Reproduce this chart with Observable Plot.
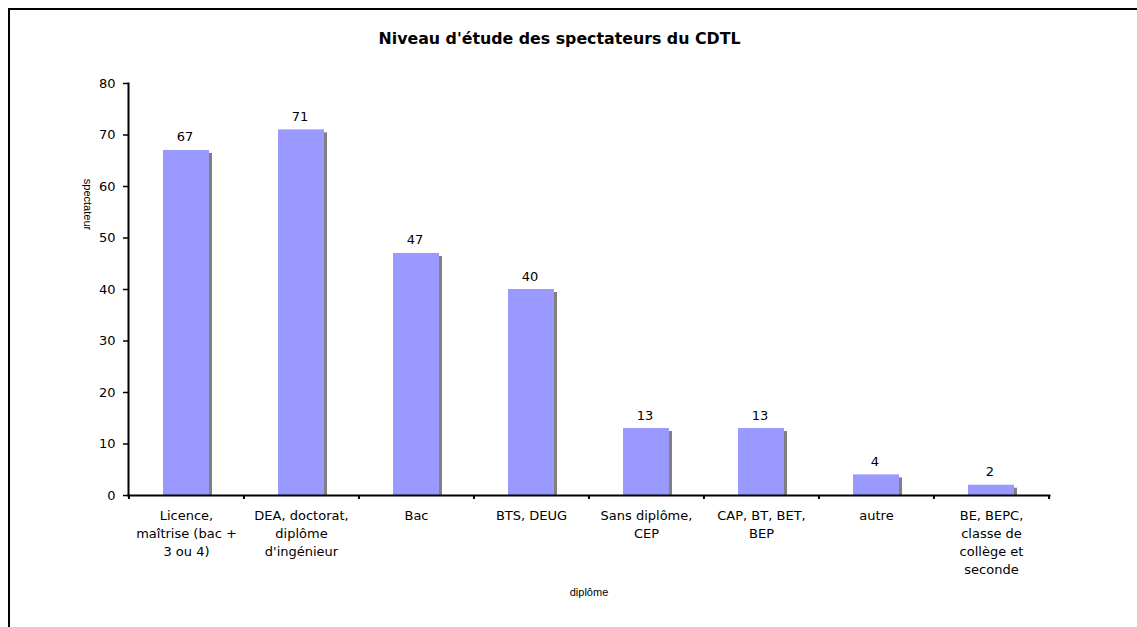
<!DOCTYPE html>
<html>
<head>
<meta charset="utf-8">
<script src="https://cdn.jsdelivr.net/npm/d3@7"></script>
<script src="https://cdn.jsdelivr.net/npm/@observablehq/plot@0.6"></script>
<style>
html, body { margin: 0; padding: 0; background: #fff; overflow: hidden; }
#border { position: absolute; left: 8px; top: 8px; width: 1200px; height: 700px; border-top: 2px solid #000; border-left: 2px solid #000; }
#chart { position: absolute; left: 0; top: 0; }
</style>
</head>
<body>
<div id="border"></div>
<div id="chart"></div>
<script>
const categories = [
  "Licence, maîtrise (bac + 3 ou 4)",
  "DEA, doctorat, diplôme d'ingénieur",
  "Bac",
  "BTS, DEUG",
  "Sans diplôme, CEP",
  "CAP, BT, BET, BEP",
  "autre",
  "BE, BEPC, classe de collège et seconde"
];
const tickLabels = [
  "Licence,\nmaîtrise (bac +\n3 ou 4)",
  "DEA, doctorat,\ndiplôme\nd'ingénieur",
  "Bac",
  "BTS, DEUG",
  "Sans diplôme,\nCEP",
  "CAP, BT, BET,\nBEP",
  "autre",
  "BE, BEPC,\nclasse de\ncollège et\nseconde"
];
const values = [67, 71, 47, 40, 13, 13, 4, 2];
const yTicks = [0, 10, 20, 30, 40, 50, 60, 70, 80];
const title = "Niveau d'étude des spectateurs du CDTL";
const xLabel = "diplôme";
const yLabel = "spectateur";

const data = categories.map((c, i) => ({category: c, value: values[i]}));
const labelOf = new Map(categories.map((c, i) => [c, tickLabels[i]]));

const W = 1137, H = 627, mL = 128, mR = 88, mT = 83, mB = 132;
const step = (W - mL - mR) / categories.length;
const font = "'DejaVu Sans', Verdana, sans-serif";

const chart = Plot.plot({
  width: W, height: H,
  marginLeft: mL, marginRight: mR, marginTop: mT, marginBottom: mB,
  style: {fontFamily: font, fontSize: "13px", color: "#000", background: "transparent", overflow: "visible"},
  x: {domain: categories, paddingInner: 0.6, paddingOuter: 0.3},
  y: {domain: [0, 80]},
  marks: [
    Plot.barY(data, {x: "category", y: "value", fill: "#808080", dx: 3, dy: 3, clip: true}),
    Plot.barY(data, {x: "category", y: "value", fill: "#9999ff"}),
    Plot.text(data, {x: "category", y: "value", text: d => String(d.value), lineAnchor: "bottom", dy: -9, fontSize: 13, dx: -1.5}),
    Plot.axisY({ticks: yTicks, tickSize: 5, tickPadding: 8, strokeWidth: 1.5, label: null, fontSize: 13}),
    Plot.axisX({tickSize: 0, tickPadding: 12, tickFormat: c => labelOf.get(c), lineHeight: 1.385, label: null, fontSize: 13}),
    Plot.axisX({tickSize: 4, tickFormat: () => "", dx: -step / 2, strokeWidth: 2, label: null}),
    Plot.axisX([categories[categories.length - 1]], {tickSize: 4, tickFormat: () => "", dx: step / 2, strokeWidth: 2, label: null}),
    Plot.frame({anchor: "left", strokeWidth: 2}),
    Plot.frame({anchor: "bottom", strokeWidth: 2}),
    Plot.text([title], {frameAnchor: "top", dx: -29.5, dy: -40, lineAnchor: "bottom", fontWeight: "bold", fontSize: 15.8}),
    Plot.text([xLabel], {frameAnchor: "bottom", dy: 97, lineAnchor: "middle", textAnchor: "middle", fontFamily: "'Liberation Sans', Arial, sans-serif", fontSize: 11}),
    Plot.text([yLabel], {frameAnchor: "top-left", dx: -41, dy: 121, rotate: 90, lineAnchor: "middle", textAnchor: "middle", fontFamily: "'Liberation Sans', Arial, sans-serif", fontSize: 11})
  ]
});
document.getElementById("chart").appendChild(chart);
</script>
</body>
</html>
